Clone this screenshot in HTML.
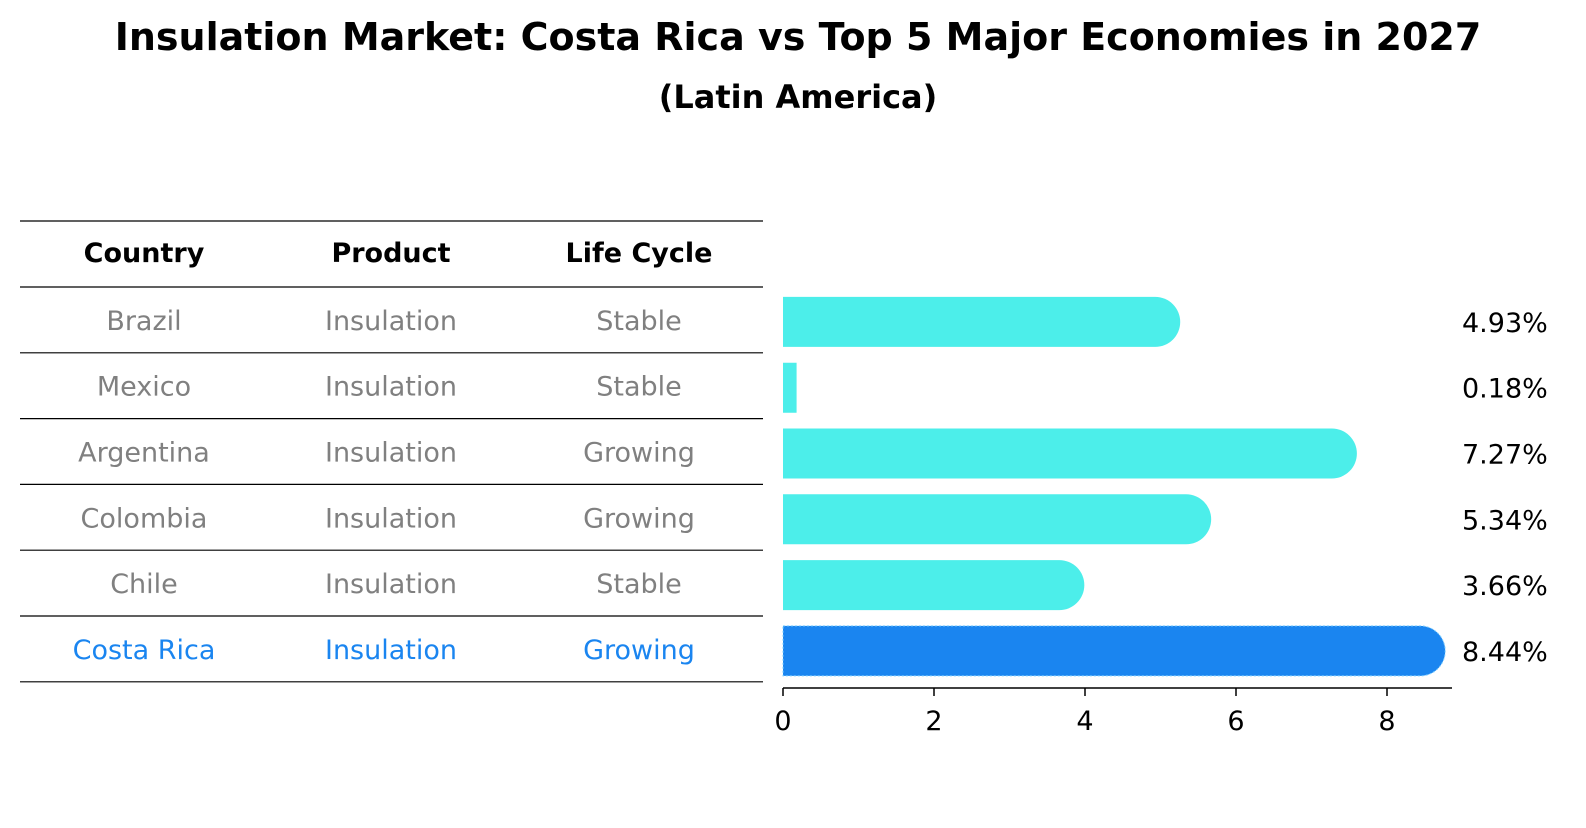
<!DOCTYPE html>
<html><head><meta charset="utf-8"><style>
body{margin:0;background:#fff;font-family:"Liberation Sans","DejaVu Sans",sans-serif}
</style></head><body>
<svg width="1586" height="823" xmlns="http://www.w3.org/2000/svg" style="font-family:'DejaVu Sans','Liberation Sans',sans-serif">
<text x="798" y="50" text-anchor="middle" font-size="38" font-weight="bold">Insulation Market: Costa Rica vs Top 5 Major Economies in 2027</text>
<text x="798" y="108" text-anchor="middle" font-size="32" font-weight="bold">(Latin America)</text>
<g id="table"></g>
<g id="bars"></g>
</svg>
<script>
const countries=["Brazil","Mexico","Argentina","Colombia","Chile","Costa Rica"];
const products=["Insulation","Insulation","Insulation","Insulation","Insulation","Insulation"];
const lifeCycles=["Stable","Stable","Growing","Growing","Stable","Growing"];
const values=[4.93,0.18,7.27,5.34,3.66,8.44];
const ticks=[0,2,4,6,8];
const NS="http://www.w3.org/2000/svg";
function mk(tag,attrs,parent,text){const e=document.createElementNS(NS,tag);for(const k in attrs)e.setAttribute(k,attrs[k]);if(text!==undefined)e.textContent=text;parent.appendChild(e);return e;}
const tbl=document.getElementById('table'),bars=document.getElementById('bars');
const x0=783,scale=75.5;const xs=v=>x0+v*scale;
const rowTop=287,rowH=65.8;const cols=[144,391,639];
let hy=221;
let l=mk('line',{x1:20,x2:763,y1:hy,y2:hy,stroke:'#000','stroke-width':1.2},tbl);

["Country","Product","Life Cycle"].forEach((h,i)=>{const t=mk('text',{x:cols[i],y:262,'text-anchor':'middle','font-size':27,'font-weight':'bold'},tbl,h);
});
countries.forEach((c,i)=>{
 const y=rowTop+i*rowH;
 const ln=mk('line',{x1:20,x2:763,y1:y,y2:y,stroke:'#000','stroke-width':1.2},tbl);
 
 const hi=i===countries.length-1;const col=hi?'#1a85f0':'#808080';
 [c,products[i],lifeCycles[i]].forEach((v,j)=>{const t=mk('text',{x:cols[j],y:y+rowH/2+10,'text-anchor':'middle','font-size':27,fill:col},tbl,v);
  });
 const cy=y+rowH/2+2,h=50,r=25;
 const w=xs(values[i])-x0;
 const fill=hi?'#1a85f0':'#4ceeea';
 let d;
 if(w>r){d=`M${x0},${cy-h/2} H${x0+w} A${r},${r} 0 0 1 ${x0+w},${cy+h/2} H${x0} Z`;}
 else d=`M${x0},${cy-h/2} H${x0+w} V${cy+h/2} H${x0} Z`;
 const b=mk('path',{d:d,fill:fill},bars);
 if(hi){b.setAttribute('stroke','#7fd0ff');b.setAttribute('stroke-dasharray','2,2');b.setAttribute('stroke-width','1');}
 
 const lt=mk('text',{x:1462,y:cy+10,'font-size':27},bars,values[i].toFixed(2)+'%');
 
});
const ly=rowTop+countries.length*rowH;
const bl=mk('line',{x1:20,x2:763,y1:ly,y2:ly,stroke:'#000','stroke-width':1.2},tbl);

const ax=mk('line',{x1:x0,x2:1452,y1:688,y2:688,stroke:'#000','stroke-width':1.5},bars);

ticks.forEach(t=>{const tk=mk('line',{x1:xs(t),x2:xs(t),y1:688,y2:696,stroke:'#000','stroke-width':1.5},bars);
 
 const tl=mk('text',{x:xs(t),y:730,'text-anchor':'middle','font-size':27},bars,String(t));
 });
</script>
</body></html>
